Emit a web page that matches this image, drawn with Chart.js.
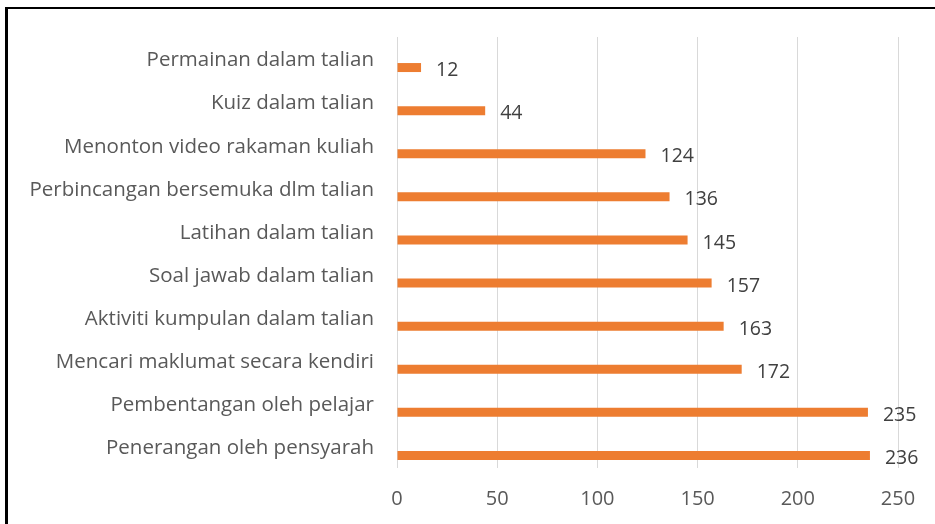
<!DOCTYPE html>
<html>
<head>
<meta charset="utf-8">
<script src="https://cdn.jsdelivr.net/npm/chart.js@4/dist/chart.umd.min.js"></script>
<style>
  html, body { margin: 0; padding: 0; background: #fff; }
  #wrap { position: relative; width: 935px; height: 524px; }
  #frame { position: absolute; left: 5px; top: 7px; right: 0; bottom: 0;
           border-left: 3px solid #000; border-top: 2px solid #000; pointer-events: none; }
</style>
</head>
<body>
<div id="wrap">
  <canvas id="chart" width="935" height="524"></canvas>
  <div id="frame"></div>
</div>
<script>
// categories, top to bottom
const categories = [
  'Permainan dalam talian',
  'Kuiz dalam talian',
  'Menonton video rakaman kuliah',
  'Perbincangan bersemuka dlm talian',
  'Latihan dalam talian',
  'Soal jawab dalam talian',
  'Aktiviti kumpulan dalam talian',
  'Mencari maklumat secara kendiri',
  'Pembentangan oleh pelajar',
  'Penerangan oleh pensyarah'
];
const values = [12, 44, 124, 136, 145, 157, 163, 172, 235, 236];
// empty series, keeps the real bars below the category centre like the original
const emptySeries = categories.map(() => null);
const xTicks = [0, 50, 100, 150, 200, 250];

const FONT = '"Open Sans", sans-serif';

// value labels to the right of each bar
const valueLabels = {
  id: 'valueLabels',
  afterDatasetsDraw(chart) {
    const ctx = chart.ctx;
    const meta = chart.getDatasetMeta(1);
    ctx.save();
    ctx.font = '19.5px ' + FONT;
    ctx.fillStyle = '#404040';
    ctx.textAlign = 'left';
    ctx.textBaseline = 'middle';
    meta.data.forEach((bar, i) => {
      ctx.fillText(String(values[i]), bar.x + 15, bar.y + 3);
    });
    ctx.restore();
  }
};

new Chart(document.getElementById('chart'), {
  type: 'bar',
  data: {
    labels: categories,
    datasets: [
      { data: emptySeries, backgroundColor: 'rgba(0,0,0,0)' },
      { data: values, backgroundColor: '#ED7D31' }
    ]
  },
  options: {
    indexAxis: 'y',
    responsive: false,
    animation: false,
    categoryPercentage: 0.835,
    barPercentage: 0.5,
    layout: { padding: { top: 37, right: 37, left: 0, bottom: 0 } },
    plugins: { legend: { display: false }, tooltip: { enabled: false } },
    scales: {
      x: {
        min: 0,
        max: 250,
        afterBuildTicks(scale) { scale.ticks = xTicks.map(v => ({ value: v })); },
        afterFit(scale) { scale.height = 56; },
        grid: { color: '#d9d9d9', drawTicks: false },
        border: { display: false },
        ticks: { color: '#595959', font: { family: FONT, size: 20 }, padding: 19 }
      },
      y: {
        afterFit(scale) { scale.width = 397; },
        grid: { display: false, drawTicks: false },
        border: { display: false },
        ticks: { color: '#595959', font: { family: FONT, size: 20.5 }, padding: 23, labelOffset: 2, autoSkip: false }
      }
    }
  },
  plugins: [valueLabels]
});
</script>
</body>
</html>
